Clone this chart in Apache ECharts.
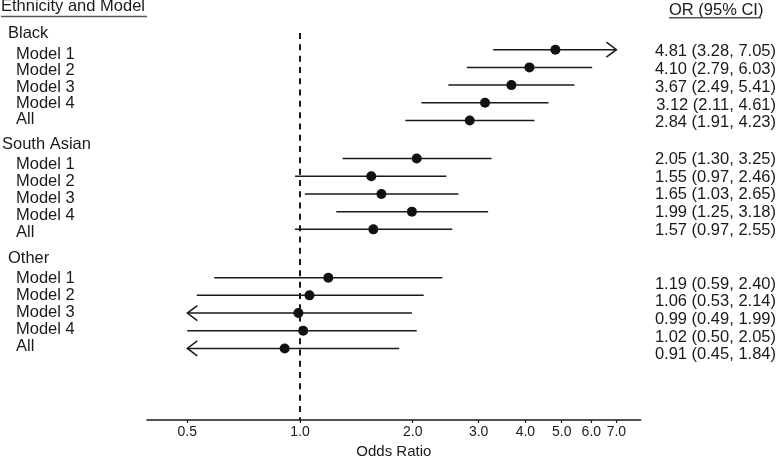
<!DOCTYPE html>
<html>
<head>
<meta charset="utf-8">
<script src="https://cdn.jsdelivr.net/npm/echarts@6/dist/echarts.min.js"></script>
<style>
html,body{margin:0;padding:0;background:#fff;}
#chart{width:777px;height:458px;}
</style>
</head>
<body>
<div id="chart"></div>
<script>
// ---- data ----
const tickValues = [0.5, 1, 2, 3, 4, 5, 6, 7];
const groups = ['Black', 'South Asian', 'Other'];
const models = ['Model 1', 'Model 2', 'Model 3', 'Model 4', 'All'];
const blackOR = [4.81, 4.10, 3.67, 3.12, 2.84];
const blackLow = [3.28, 2.79, 2.49, 2.11, 1.91];
const blackHigh = [7.05, 6.03, 5.41, 4.61, 4.23];
const southAsianOR = [2.05, 1.55, 1.65, 1.99, 1.57];
const southAsianLow = [1.30, 0.97, 1.03, 1.25, 0.97];
const southAsianHigh = [3.25, 2.46, 2.65, 3.18, 2.55];
const otherOR = [1.19, 1.06, 0.99, 1.02, 0.91];
const otherLow = [0.59, 0.53, 0.49, 0.50, 0.45];
const otherHigh = [2.40, 2.14, 1.99, 2.05, 1.84];
const refValue = 1;
const displayMin = 0.5, displayMax = 7;

// ---- layout (kept out of data) ----
const groupData = [
  [blackOR, blackLow, blackHigh],
  [southAsianOR, southAsianLow, southAsianHigh],
  [otherOR, otherLow, otherHigh]
];
const rowStart = [1, 7.15, 13.88];          // y-axis units of first row per group
const headerTextY = [33.3, 143.8, 257.7];
const headerTextX = [8, 2, 8];
const modelSpacing = [16.4, 16.9, 16.9];
const rightTextOffset = [1.4, 0, 5.5];
const FONT = '"Liberation Sans", Arial, sans-serif';
const INK = '#1a1a1a';

const lg = v => Math.log10(v);
const fmt = v => v.toFixed(2);

const rows = [];
groupData.forEach((g, gi) => {
  g[0].forEach((or, i) => {
    rows.push([lg(or), rowStart[gi] + i, lg(g[1][i]), lg(g[2][i]), gi, i]);
  });
});

function renderRow(params, api) {
  const y = api.value(1);
  const gi = api.value(4), i = api.value(5);
  const lo = api.value(2), hi = api.value(3);
  const p = api.coord([api.value(0), y]);
  const loC = Math.max(lo, lg(displayMin));
  const hiC = Math.min(hi, lg(displayMax));
  const xl = api.coord([loC, y])[0];
  const xh = api.coord([hiC, y])[0];
  const py = p[1];
  const children = [];
  children.push({type: 'line', shape: {x1: xl, y1: py, x2: xh, y2: py},
    style: {stroke: INK, lineWidth: 1.5}});
  const aw = 10, ah = 7.5;
  if (lo < lg(displayMin) - 1e-9) {
    children.push({type: 'polyline', shape: {points: [[xl + aw, py - ah], [xl, py], [xl + aw, py + ah]]},
      style: {stroke: INK, lineWidth: 1.5, fill: null, lineJoin: 'miter'}});
  }
  if (hi > lg(displayMax) + 1e-9) {
    children.push({type: 'polyline', shape: {points: [[xh - aw, py - ah], [xh, py], [xh - aw, py + ah]]},
      style: {stroke: INK, lineWidth: 1.5, fill: null, lineJoin: 'miter'}});
  }
  children.push({type: 'circle', shape: {cx: p[0], cy: py, r: 5}, style: {fill: '#111'}});
  const g = groupData[gi];
  children.push({type: 'text', style: {
    text: models[i], x: 16, y: headerTextY[gi] + 21 + i * modelSpacing[gi],
    fill: INK, font: '16.5px ' + FONT, align: 'left', verticalAlign: 'middle'}});
  children.push({type: 'text', style: {
    text: fmt(g[0][i]) + ' (' + fmt(g[1][i]) + ', ' + fmt(g[2][i]) + ')',
    x: 776, y: py + rightTextOffset[gi] + 0.8,
    fill: INK, font: '16.5px ' + FONT, align: 'right', verticalAlign: 'middle'}});
  return {type: 'group', children: children};
}

function renderRef(params, api) {
  const a = api.coord([lg(refValue), 0.06]);
  const b = api.coord([lg(refValue), 21.921]);
  return {type: 'line', shape: {x1: a[0], y1: a[1], x2: b[0], y2: b[1]},
    style: {stroke: INK, lineWidth: 2, lineDash: [6, 5.3]}};
}

const graphics = [];
groups.forEach((name, gi) => {
  graphics.push({type: 'text', left: headerTextX[gi], top: headerTextY[gi] - 8,
    style: {text: name, fill: INK, font: '16.5px ' + FONT}});
});
graphics.push({type: 'text', left: 1, top: -1.8,
  style: {text: 'Ethnicity and Model', fill: INK, font: '16.5px ' + FONT}});
graphics.push({type: 'line', shape: {x1: 1, y1: 16.5, x2: 147, y2: 16.5},
  style: {stroke: '#555', lineWidth: 1.6}});
graphics.push({type: 'text', left: 669, top: 1.5,
  style: {text: 'OR (95% CI)', fill: INK, font: '16.5px ' + FONT}});
graphics.push({type: 'line', shape: {x1: 669, y1: 17.7, x2: 761, y2: 17.7},
  style: {stroke: '#555', lineWidth: 1.6}});

const chart = echarts.init(document.getElementById('chart'), null, {renderer: 'canvas'});
chart.setOption({
  animation: false,
  backgroundColor: '#fff',
  grid: {left: 147, right: 136.3, top: 14.3, bottom: 38, containLabel: false, outerBoundsMode: 'none'},
  xAxis: {
    type: 'value', min: -0.4087, max: 0.9100, position: 'bottom',
    axisLine: {show: true, onZero: false, lineStyle: {color: INK, width: 1.5}},
    axisTick: {show: true, length: 3, lineStyle: {color: INK, width: 1.2},
      customValues: tickValues.map(lg)},
    axisLabel: {customValues: tickValues.map(lg), margin: 5.5,
      formatter: v => Math.pow(10, v).toFixed(1),
      fontSize: 14, color: INK, fontFamily: FONT},
    splitLine: {show: false},
    name: 'Odds Ratio', nameLocation: 'middle', nameGap: 24.2,
    nameTextStyle: {fontSize: 15, color: INK, fontFamily: FONT}
  },
  yAxis: {
    type: 'value', inverse: true, min: -1, max: 21.921, show: false
  },
  graphic: graphics,
  series: [
    {type: 'custom', data: [[0, 0]], renderItem: renderRef, clip: false, silent: true, z: 1},
    {type: 'custom', data: rows, encode: {x: 0, y: 1}, renderItem: renderRow, clip: false, silent: true, z: 2}
  ]
});
</script>
</body>
</html>
